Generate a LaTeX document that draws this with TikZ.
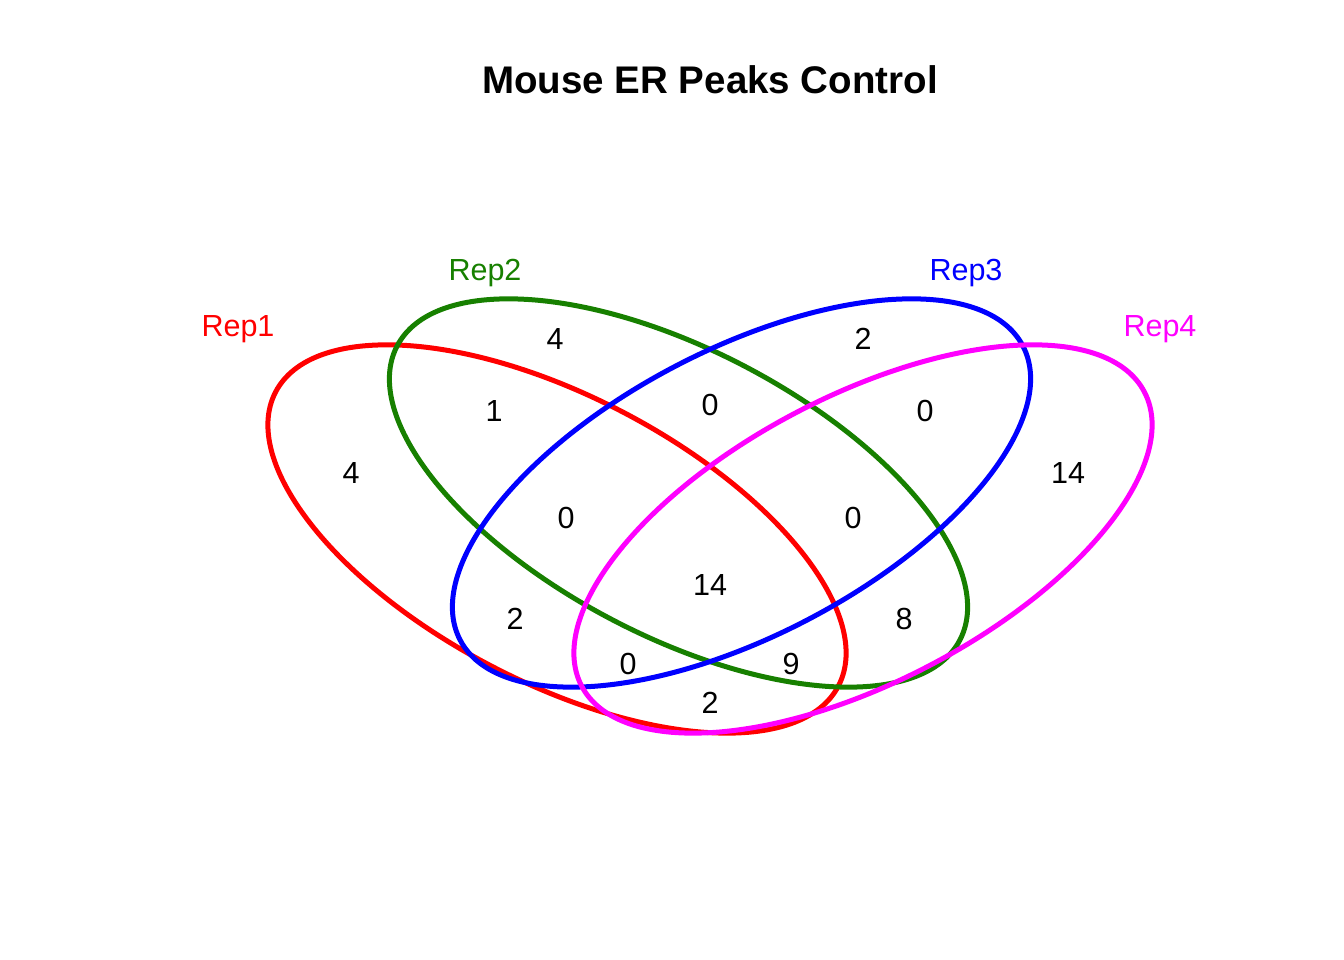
\documentclass[tikz,border=0pt]{standalone}
\usepackage{fontspec}
\setmainfont{Liberation Sans}
\definecolor{vred}{HTML}{FF0000}
\definecolor{vgreen}{HTML}{178000}
\definecolor{vblue}{HTML}{0000FF}
\definecolor{vmag}{HTML}{FF00FF}
\begin{document}
\begin{tikzpicture}[x=1pt,y=1pt,
  ring/.style={line width=5pt},
  num/.style={font=\fontsize{30.5}{36}\selectfont, inner sep=0pt, anchor=center},
  setlab/.style={font=\fontsize{30.5}{36}\selectfont, inner sep=0pt, anchor=center}]
\useasboundingbox (0,0) rectangle (1344,960);
% screen y -> 960 - y
\draw[ring, vred, rotate around={-27.6:(557,421)}] (557,421) ellipse [x radius=317.5pt, y radius=143pt];
\draw[ring, vgreen, rotate around={-27.6:(678.5,467)}] (678.5,467) ellipse [x radius=317.5pt, y radius=143pt];
\draw[ring, vblue, rotate around={27.6:(741.5,467)}] (741.5,467) ellipse [x radius=317.5pt, y radius=143pt];
\draw[ring, vmag, rotate around={27.6:(863,421)}] (863,421) ellipse [x radius=317.5pt, y radius=143pt];

\node[font=\fontsize{38.5}{46}\selectfont\bfseries, inner sep=0pt] (title) at (710,880) {Mouse ER Peaks Control};

\node[setlab, text=vred] (l1) at (238,631) {Rep1};
\node[setlab, text=vgreen] (l2) at (485,687) {Rep2};
\node[setlab, text=vblue] (l3) at (966,687) {Rep3};
\node[setlab, text=vmag] (l4) at (1160,631) {Rep4};

\node[num] (n1) at (351,487) {4};
\node[num] (n2) at (555,621) {4};
\node[num] (n3) at (494,549) {1};
\node[num] (n4) at (710,555) {0};
\node[num] (n5) at (863,621) {2};
\node[num] (n6) at (925,549) {0};
\node[num] (n7) at (1068,487) {14};
\node[num] (n8) at (566,442) {0};
\node[num] (n9) at (853,442) {0};
\node[num] (n10) at (710,375) {14};
\node[num] (n11) at (515,341) {2};
\node[num] (n12) at (904,341) {8};
\node[num] (n13) at (628,296) {0};
\node[num] (n14) at (791,296) {9};
\node[num] (n15) at (710,257) {2};
\end{tikzpicture}
\end{document}
